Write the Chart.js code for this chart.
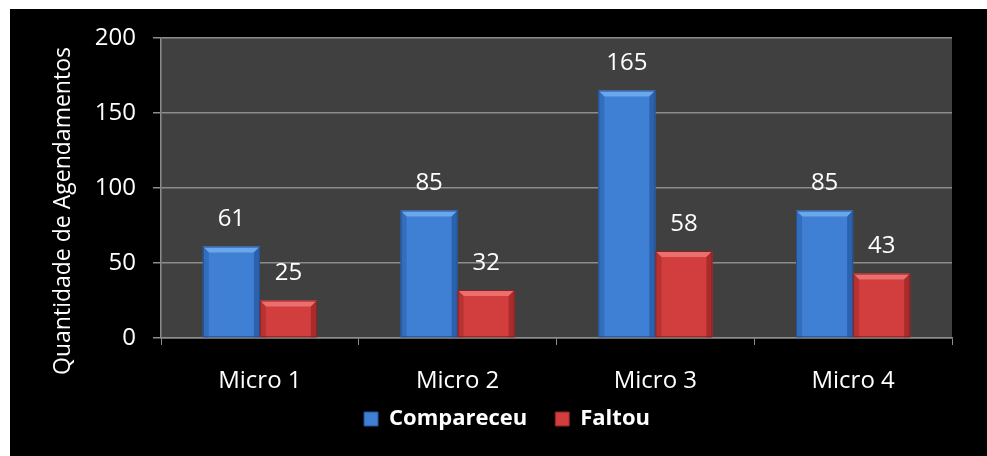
<!DOCTYPE html>
<html>
<head>
<meta charset="utf-8">
<script src="https://cdn.jsdelivr.net/npm/chart.js@4"></script>
<style>
  html, body { margin: 0; padding: 0; background: #fff; }
  #wrap { width: 987px; height: 456px; }
</style>
</head>
<body>
<div id="wrap"><canvas id="grafico" width="987" height="456"></canvas></div>
<script>
var categorias = ['Micro 1', 'Micro 2', 'Micro 3', 'Micro 4']
var compareceu = [61, 85, 165, 85]
var faltou = [25, 32, 58, 43]
var yTicks = [0, 50, 100, 150, 200]
var tituloY = 'Quantidade de Agendamentos'

var fonte = "'Open Sans', sans-serif"
var cores = {
    azul: { face: '#3f80d4', claro: '#6aa6ec', escuro: '#2c62ad', borda: '#24518f' },
    vermelho: { face: '#d23d3d', claro: '#ec6f6f', escuro: '#a92b2b', borda: '#8a2222' }
}

// fundo: margem branca + preto + area do grafico cinza
var fundo = {
    id: 'fundo',
    beforeDraw: function(chart) {
        var c = chart.ctx, a = chart.chartArea
        c.save()
        c.fillStyle = '#ffffff'
        c.fillRect(0, 0, chart.width, chart.height)
        c.fillStyle = '#000000'
        c.fillRect(10, 9, chart.width - 10, chart.height - 9)
        c.fillStyle = '#404040'
        c.fillRect(a.left, a.top, a.right - a.left, a.bottom - a.top)
        c.restore()
    }
}

// ajustes depois do layout: legenda mais a direita e rotulos do eixo x sem corte
var ajustes = {
    id: 'ajustes',
    afterLayout: function(chart) {
        chart.legend.left += 26
        chart.legend.right += 26
        chart.scales.x.bottom += 40
    }
}

// titulo do eixo y (fica abaixo do centro da area no original)
var tituloEixo = {
    id: 'tituloEixo',
    afterDraw: function(chart) {
        var c = chart.ctx
        c.save()
        c.translate(63, 211)
        c.rotate(-Math.PI / 2)
        c.font = '23px ' + fonte
        c.fillStyle = '#ffffff'
        c.textAlign = 'center'
        c.textBaseline = 'middle'
        c.fillText(tituloY, 0, 0)
        c.restore()
    }
}

// bordas chanfradas das barras
var chanfro = {
    id: 'chanfro',
    afterDatasetsDraw: function(chart) {
        var c = chart.ctx
        chart.data.datasets.forEach(function(ds, i) {
            var cor = ds._cor
            chart.getDatasetMeta(i).data.forEach(function(bar) {
                var l = bar.x - bar.width / 2, r = bar.x + bar.width / 2
                var t = bar.y, b = bar.base, s = 6
                c.save()
                c.fillStyle = cor.claro
                c.beginPath(); c.moveTo(l, t); c.lineTo(r, t); c.lineTo(r - s, t + s); c.lineTo(l + s, t + s); c.closePath(); c.fill()
                c.fillStyle = cor.escuro
                c.beginPath(); c.moveTo(r, t); c.lineTo(r, b); c.lineTo(r - s, b); c.lineTo(r - s, t + s); c.closePath(); c.fill()
                c.globalAlpha = 0.6
                c.beginPath(); c.moveTo(l, t); c.lineTo(l + s, t + s); c.lineTo(l + s, b); c.lineTo(l, b); c.closePath(); c.fill()
                c.globalAlpha = 1
                c.strokeStyle = cor.borda
                c.lineWidth = 1
                c.strokeRect(l + 0.5, t + 0.5, r - l - 1, b - t - 1)
                c.restore()
            })
        })
    }
}

// rotulos de valor acima das barras
var rotulos = {
    id: 'rotulos',
    afterDatasetsDraw: function(chart) {
        var c = chart.ctx
        c.save()
        c.font = '24px ' + fonte
        c.fillStyle = '#ffffff'
        c.textAlign = 'center'
        c.textBaseline = 'middle'
        chart.data.datasets.forEach(function(ds, i) {
            chart.getDatasetMeta(i).data.forEach(function(bar, j) {
                c.fillText(ds.data[j], bar.x, bar.y - 27)
            })
        })
        c.restore()
    }
}

function gradFace(cor) {
    return function(context) {
        var bar = context.element
        if (!bar || bar.width === undefined) return cor.face
        var g = context.chart.ctx.createLinearGradient(bar.x - bar.width / 2, 0, bar.x + bar.width / 2, 0)
        g.addColorStop(0, cor.escuro)
        g.addColorStop(0.15, cor.face)
        g.addColorStop(0.5, cor.face)
        g.addColorStop(0.85, cor.face)
        g.addColorStop(1, cor.escuro)
        return g
    }
}

var ctx = document.getElementById('grafico')
var grafico = new Chart(ctx, {
    type: 'bar',
    data: {
        labels: categorias,
        datasets: [
            { label: 'Compareceu', data: compareceu, backgroundColor: gradFace(cores.azul), borderWidth: 0, _cor: cores.azul },
            { label: 'Faltou', data: faltou, backgroundColor: gradFace(cores.vermelho), borderWidth: 0, _cor: cores.vermelho }
        ]
    },
    options: {
        responsive: false,
        animation: false,
        devicePixelRatio: 1,
        categoryPercentage: 0.577,
        barPercentage: 1,
        layout: { padding: { left: 10, top: 38, right: 35, bottom: 16 } },
        plugins: {
            tooltip: { enabled: false },
            legend: {
                position: 'bottom',
                labels: {
                    color: '#ffffff',
                    font: { family: fonte, size: 22, weight: 'bold' },
                    boxWidth: 14,
                    boxHeight: 14,
                    padding: 28,
                    generateLabels: function(chart) {
                        return chart.data.datasets.map(function(ds, i) {
                            return { text: ds.label, fillStyle: ds._cor.face, strokeStyle: ds._cor.borda, lineWidth: 1, fontColor: '#ffffff', datasetIndex: i }
                        })
                    }
                }
            }
        },
        scales: {
            x: {
                afterFit: function(s) { s.height = 42 },
                grid: { drawOnChartArea: false, drawTicks: true, tickLength: 7, color: '#8c8c8c' },
                border: { color: '#8c8c8c', width: 1.5 },
                ticks: { color: '#ffffff', font: { family: fonte, size: 24 }, padding: 22 }
            },
            y: {
                min: 0,
                max: 200,
                afterFit: function(s) { s.width = 151 },
                afterBuildTicks: function(s) { s.ticks = yTicks.map(function(v) { return { value: v } }) },
                grid: { color: '#8c8c8c', lineWidth: 1.5, tickLength: 8 },
                border: { color: '#8c8c8c', width: 1.5 },
                ticks: { color: '#ffffff', font: { family: fonte, size: 24 }, padding: 17 }
            }
        }
    },
    plugins: [fundo, ajustes, chanfro, rotulos, tituloEixo]
})
</script>
</body>
</html>
